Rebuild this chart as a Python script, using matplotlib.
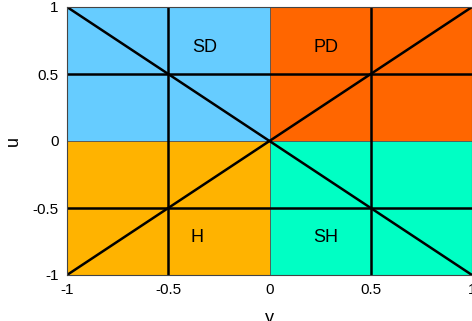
import matplotlib
matplotlib.use("Agg")
import matplotlib.pyplot as plt
from matplotlib.patches import Rectangle

plt.rcParams['font.family'] = ['Liberation Sans', 'DejaVu Sans']

# quadrants: (x0, y0, colour, label, label x, label y)
quad_x0 = [-1, 0, -1, 0]
quad_y0 = [0, 0, -1, -1]
quad_colors = ['#66CCFF', '#FF6600', '#FFB300', '#00FFC4']
quad_labels = ['SD', 'PD', 'H', 'SH']
label_x = [-0.32, 0.28, -0.36, 0.28]
label_y = [0.70, 0.70, -0.72, -0.72]

grid_vals = [-0.5, 0.5]
ticks = [-1, -0.5, 0, 0.5, 1]
tick_labels = ['-1', '-0.5', '0', '0.5', '1']

fig = plt.figure(figsize=(4.72, 3.21), dpi=100)
ax = fig.add_axes([67/472, 46/321, 405/472, 268/321])

for x0, y0, c in zip(quad_x0, quad_y0, quad_colors):
    ax.add_patch(Rectangle((x0, y0), 1, 1, facecolor=c, edgecolor='#555555', linewidth=0.6))

for v in grid_vals:
    ax.axhline(v, color='black', lw=1.8)
    ax.axvline(v, color='black', lw=1.8)
ax.plot([-1, 1], [1, -1], color='black', lw=1.8)
ax.plot([-1, 1], [-1, 1], color='black', lw=1.8)

for t, x, y in zip(quad_labels, label_x, label_y):
    ax.text(x, y, t, fontsize=13, ha='center', va='center')

ax.set_xlim(-1, 1)
ax.set_ylim(-1, 1)
ax.set_xticks(ticks)
ax.set_xticklabels(tick_labels)
ax.set_yticks(ticks)
ax.set_yticklabels(tick_labels)
ax.tick_params(length=0, labelsize=11, pad=6)
for s in ax.spines.values():
    s.set_color('#444444')
    s.set_linewidth(0.8)
ax.set_xlabel('y', fontsize=13, labelpad=9)
ax.set_ylabel('u', fontsize=13, labelpad=8)

fig.savefig('out.png', dpi=100)
